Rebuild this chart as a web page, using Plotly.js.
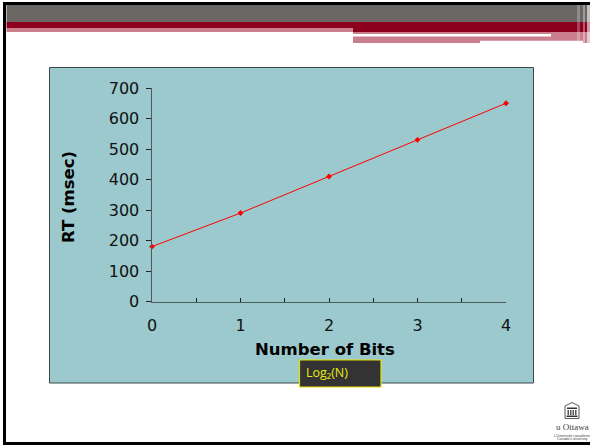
<!DOCTYPE html>
<html><head><meta charset="utf-8">
<script src="https://cdn.plot.ly/plotly-3.0.1.min.js"></script>
<style>html,body{margin:0;padding:0;background:#fff;overflow:hidden}</style>
</head><body><div id="chart" style="width:590px;height:445px"></div>
<script>
const bits = [0, 1, 2, 3, 4];
const rt = [180, 290, 410, 530, 650];
const xTickVals = [0, 1, 2, 3, 4];
const xMinorTickVals = [0.5, 1.5, 2.5, 3.5];
const yTickVals = [0, 100, 200, 300, 400, 500, 600, 700];
const W = 590, H = 445;
const px = x => x / W, py = y => 1 - y / H;
const rect = (x0, y0, x1, y1, fill, line, lw) => ({type:'rect', xref:'paper', yref:'paper', layer:'below',
  x0:px(x0), x1:px(x1), y0:py(y0), y1:py(y1), fillcolor:fill, line:{color:line||fill, width:lw===undefined?0:lw}});
const poly = (pts, fill, line, lw) => ({type:'path', xref:'paper', yref:'paper', layer:'below',
  path:'M' + pts.map(p => px(p[0]) + ',' + py(p[1])).join('L') + 'Z', fillcolor:fill, line:{color:line, width:lw}});
const shapes = [
  // slide frame and header bands
  rect(3,2,590,5,'#000'), rect(3,2,6,445,'#000'), rect(3,442,590,445,'#000'),
  rect(6.5,5,590,22,'#6a6664'),
  rect(6.5,22,590,28,'#8c001e'),
  rect(6.5,28,353,32,'#c9808c'),
  rect(353,28,590,32,'#8c001e'),
  rect(353,32,590,43,'#c9808c'),
  rect(353,34,551,36.5,'#ffffff'),
  rect(480,40.7,583,43,'#ffffff'),
  rect(577,5,580,40.7,'rgba(255,255,255,0.25)'),
  rect(583,5,585,43,'rgba(255,255,255,0.35)'),
  rect(587,5,590,43,'rgba(255,255,255,0.6)'),
  // chart panel
  rect(49.5,67.5,533.5,383,'#9bc9cd','#3a4a4c',1),
  // label box
  Object.assign(rect(299.5,360,381,387,'#333333','#e6e000',1.2),{layer:'above'}),
  // logo
  poly([[565,406],[572,402.5],[579,406],[579,418.5],[565,418.5]],'#ffffff','#444',0.9),
  rect(567,407.5,577,409,'#333'),
  rect(567.5,410,569,415,'#555'), rect(570,410,571.5,415,'#555'), rect(572.5,410,574,415,'#555'), rect(575,410,576.5,415,'#555'),
  rect(566.5,415.5,577.5,417,'#333')
];
const annotations = [
  {text:'Log₂(N)', xref:'paper', yref:'paper', x:px(304), y:py(372.5), xanchor:'left', yanchor:'middle',
   showarrow:false, font:{family:'Open Sans, Noto Sans, sans-serif', size:12.5, color:'#eaea10'}},
  {text:'Number of Bits', xref:'paper', yref:'paper', x:px(324.5), y:py(349), xanchor:'center', yanchor:'middle',
   showarrow:false, font:{family:'DejaVu Sans, sans-serif', size:16.5, color:'#000', weight:'bold'}},
  {text:'RT (msec)', xref:'paper', yref:'paper', x:px(69), y:py(197), xanchor:'center', yanchor:'middle', textangle:-90,
   showarrow:false, font:{family:'DejaVu Sans, sans-serif', size:16.5, color:'#000', weight:'bold'}},
  {text:'u Ottawa', xref:'paper', yref:'paper', x:px(572), y:py(427), xanchor:'center', yanchor:'middle',
   showarrow:false, font:{family:'Liberation Serif, serif', size:9, color:'#444'}},
  {text:"L'Université canadienne", xref:'paper', yref:'paper', x:px(572), y:py(435.5), xanchor:'center', yanchor:'middle',
   showarrow:false, font:{family:'Liberation Sans, sans-serif', size:3.5, color:'#444'}},
  {text:"Canada's university", xref:'paper', yref:'paper', x:px(572), y:py(439), xanchor:'center', yanchor:'middle',
   showarrow:false, font:{family:'Liberation Sans, sans-serif', size:3.5, color:'#444'}}
];
const axisCommon = {showgrid:false, zeroline:false, showline:true, linecolor:'#4f5a5c', linewidth:1.5,
  tickcolor:'#222', tickwidth:1, automargin:false, tickfont:{family:'DejaVu Sans, sans-serif', size:16, color:'#111'}};
const trace = {x:bits, y:rt, type:'scatter', mode:'lines+markers', cliponaxis:false,
  line:{color:'#ff0000', width:1}, marker:{color:'#ff0000', size:4.5, symbol:'diamond'}};
const layout = {
  width:W, height:H, margin:{l:0,r:0,t:0,b:0,pad:0}, showlegend:false,
  paper_bgcolor:'#ffffff', plot_bgcolor:'rgba(0,0,0,0)',
  shapes, annotations,
  xaxis:Object.assign({}, axisCommon, {domain:[px(152),px(506)], range:[0,4], tickmode:'array', tickvals:xTickVals,
    ticks:'inside', ticklen:4, tickangle:0, ticklabelstandoff:9,
    minor:{tickmode:'array', tickvals:xMinorTickVals, ticks:'inside', ticklen:4, tickcolor:'#222', tickwidth:1}}),
  yaxis:Object.assign({}, axisCommon, {domain:[py(301.5),py(88)], range:[0,700], tickmode:'array', tickvals:yTickVals,
    ticks:'outside', ticklen:5, ticklabelstandoff:3})
};
Plotly.newPlot('chart',[trace],layout,{displayModeBar:false,staticPlot:true});
</script></body></html>
